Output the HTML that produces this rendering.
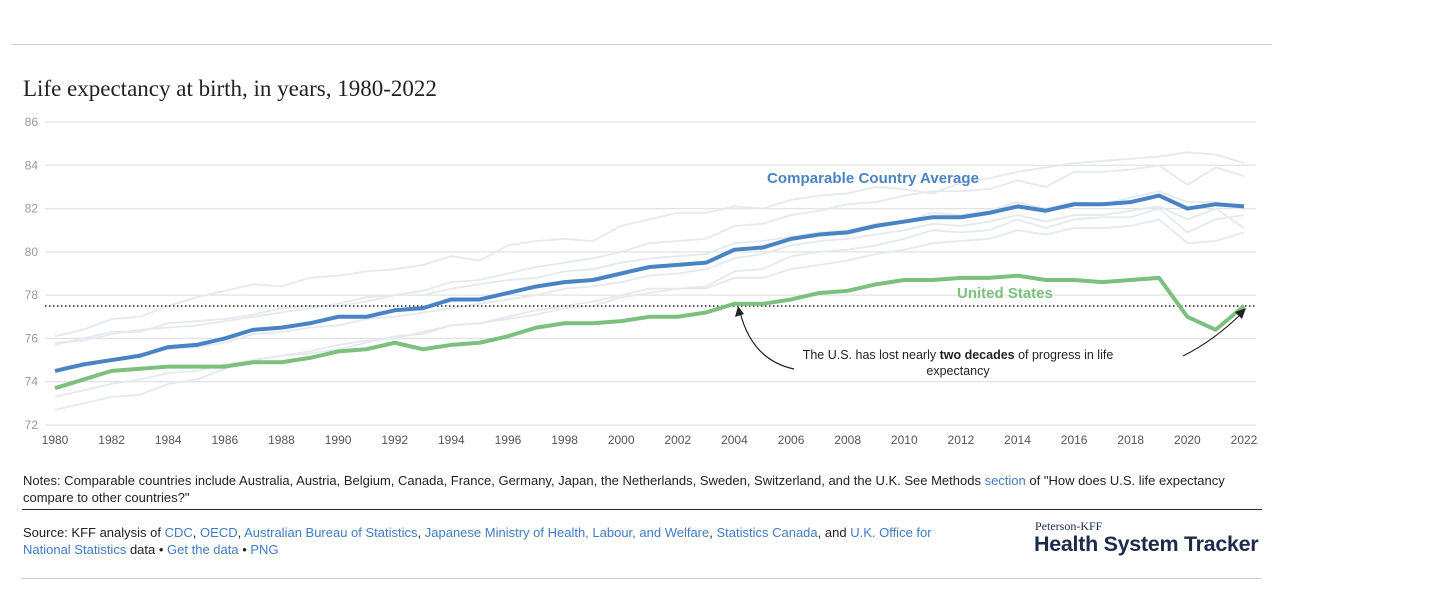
<!DOCTYPE html>
<html><head><meta charset="utf-8"><style>
body{margin:0;width:1456px;height:597px;background:#fff;font-family:"Liberation Sans",sans-serif;overflow:hidden;position:relative}
.a{color:#3f7cc4}
</style></head><body>
<div style="position:absolute;left:12px;top:44px;width:1260px;height:1px;background:#ccc"></div>
<div style="position:absolute;left:23px;top:76px;font-family:'Liberation Serif',serif;font-size:23px;color:#222">Life expectancy at birth, in years, 1980-2022</div>
<svg id="c" width="1456" height="460" style="position:absolute;left:0;top:0"></svg>
<div style="position:absolute;left:23px;top:472px;width:1230px;font-size:13px;line-height:17px;color:#222">Notes: Comparable countries include Australia, Austria, Belgium, Canada, France, Germany, Japan, the Netherlands, Sweden, Switzerland, and the U.K. See Methods <span class="a">section</span> of "How does U.S. life expectancy compare to other countries?"</div>
<div style="position:absolute;left:22px;top:509px;width:1240px;height:1px;background:#1e2a4a"></div>
<div style="position:absolute;left:23px;top:524px;width:915px;font-size:13px;line-height:17px;color:#222">Source: KFF analysis of <span class="a">CDC</span>, <span class="a">OECD</span>, <span class="a">Australian Bureau of Statistics</span>, <span class="a">Japanese Ministry of Health, Labour, and Welfare</span>, <span class="a">Statistics Canada</span>, and <span class="a">U.K. Office for National Statistics</span> data • <span class="a">Get the data</span> • <span class="a">PNG</span></div>
<div style="position:absolute;left:1035px;top:519px;font-family:'Liberation Serif',serif;font-size:12px;color:#1e2a4a">Peterson-KFF</div>
<div style="position:absolute;left:1034px;top:532px;font-size:21.5px;font-weight:bold;color:#1e2a4a;letter-spacing:-0.3px">Health System Tracker</div>
<div style="position:absolute;left:22px;top:578px;width:1240px;height:1px;background:#ccc"></div>
<script>
const years=[];for(let y=1980;y<=2022;y++)years.push(y);
const yTicks=[72,74,76,78,80,82,84,86];
const avg=[74.5,74.8,75.0,75.2,75.6,75.7,76.0,76.4,76.5,76.7,77.0,77.0,77.3,77.4,77.8,77.8,78.1,78.4,78.6,78.7,79.0,79.3,79.4,79.5,80.1,80.2,80.6,80.8,80.9,81.2,81.4,81.6,81.6,81.8,82.1,81.9,82.2,82.2,82.3,82.6,82.0,82.2,82.1];
const us=[73.7,74.1,74.5,74.6,74.7,74.7,74.7,74.9,74.9,75.1,75.4,75.5,75.8,75.5,75.7,75.8,76.1,76.5,76.7,76.7,76.8,77.0,77.0,77.2,77.6,77.6,77.8,78.1,78.2,78.5,78.7,78.7,78.8,78.8,78.9,78.7,78.7,78.6,78.7,78.8,77.0,76.4,77.5];
const c1=[76.1,76.4,76.9,77.0,77.5,77.9,78.2,78.5,78.4,78.8,78.9,79.1,79.2,79.4,79.8,79.6,80.3,80.5,80.6,80.5,81.2,81.5,81.8,81.8,82.1,82.0,82.4,82.6,82.7,83.0,82.9,82.7,83.2,83.4,83.7,83.9,84.1,84.2,84.3,84.4,84.6,84.5,84.1];
const c2=[75.7,76.0,76.3,76.3,76.7,76.8,76.9,77.1,77.4,77.5,77.5,77.7,78.0,78.2,78.6,78.7,79.0,79.3,79.5,79.7,80.0,80.4,80.5,80.6,81.2,81.3,81.7,81.9,82.2,82.3,82.6,82.8,82.8,82.9,83.3,83.0,83.7,83.7,83.8,84.0,83.1,83.9,83.5];
const c3=[72.7,73.0,73.3,73.4,73.9,74.1,74.6,75.0,75.2,75.3,75.5,75.8,76.1,76.2,76.6,76.7,77.0,77.3,77.5,77.7,78.0,78.3,78.3,78.4,79.1,79.2,79.8,80.0,80.1,80.3,80.6,81.0,80.9,81.0,81.5,81.1,81.5,81.6,81.6,82.0,80.9,81.5,81.7];
const c4=[73.3,73.6,73.9,74.1,74.4,74.5,74.8,75.0,75.2,75.4,75.7,75.9,76.0,76.3,76.6,76.7,76.9,77.1,77.4,77.5,77.9,78.1,78.3,78.3,78.8,78.8,79.2,79.4,79.6,79.9,80.1,80.4,80.5,80.6,81.0,80.8,81.1,81.1,81.2,81.5,80.4,80.5,80.9];
const c5=[75.8,75.9,76.2,76.4,76.5,76.6,76.8,77.0,77.2,77.4,77.6,77.9,78.0,78.0,78.3,78.5,78.7,78.8,79.1,79.2,79.5,79.7,79.8,79.9,80.4,80.5,80.7,80.9,81.0,81.3,81.4,81.8,81.7,81.9,82.3,82.0,82.3,82.2,82.5,82.8,82.3,82.3,82.0];
const c6=[74.5,74.7,75.0,75.3,75.5,75.6,75.8,76.2,76.3,76.5,76.6,76.9,77.0,77.2,77.4,77.6,77.8,78.0,78.3,78.4,78.6,78.9,79.0,79.2,79.7,79.9,80.3,80.5,80.6,80.8,81.0,81.3,81.2,81.4,81.7,81.4,81.7,81.7,81.9,82.1,81.5,82.0,81.1];
const refValue=77.5;
const NS="http://www.w3.org/2000/svg",svg=document.getElementById('c');
const X=y=>55+(y-1980)*(1189/42), Y=v=>122+(86-v)*(303/14);
function mk(t,a){const e=document.createElementNS(NS,t);for(const k in a)e.setAttribute(k,a[k]);svg.appendChild(e);return e;}
yTicks.forEach(v=>{
 const g=mk('line',{x1:45,x2:1256,y1:Y(v),y2:Y(v),stroke:'#e3e3e3','stroke-width':1.3});
 
 
 const t=mk('text',{x:38,y:Y(v)+4,'text-anchor':'end','font-size':12,fill:'#999','font-family':'Liberation Sans'});
 t.textContent=v;
 
 
});
years.forEach(y=>{if(y%2)return;
 const t=mk('text',{x:X(y),y:444,'text-anchor':'middle','font-size':12,fill:'#555','font-family':'Liberation Sans'});
 t.textContent=y;
 
 
});
const pts=a=>a.map((v,i)=>X(years[i])+','+Y(v)).join(' ');
[c1,c2,c3,c4,c5,c6].forEach((s,i)=>{
 const p=mk('polyline',{points:pts(s),fill:'none',stroke:'#e4e9ef','stroke-width':1.8});
 
 
});
const r=mk('line',{x1:45,x2:1256,y1:Y(refValue),y2:Y(refValue),stroke:'#222','stroke-width':1.5,'stroke-dasharray':'1.5,2.5'});


const pa=mk('polyline',{points:pts(avg),fill:'none',stroke:'#4a83c4','stroke-width':4,'stroke-linejoin':'round'});


const pu=mk('polyline',{points:pts(us),fill:'none',stroke:'#7cc07e','stroke-width':4,'stroke-linejoin':'round'});


const l1=mk('text',{x:767,y:183,'font-size':15,'font-weight':'bold',fill:'#4a83c4','font-family':'Liberation Sans',textLength:212});l1.textContent='Comparable Country Average';


const l2=mk('text',{x:957,y:298,'font-size':15,'font-weight':'bold',fill:'#7cc07e','font-family':'Liberation Sans'});l2.textContent='United States';


const an=mk('text',{x:958,y:359,'text-anchor':'middle','font-size':12.5,fill:'#222','font-family':'Liberation Sans'});
an.innerHTML='The U.S. has lost nearly <tspan font-weight="bold">two decades</tspan> of progress in life';


const an2=mk('text',{x:958,y:375,'text-anchor':'middle','font-size':12.5,fill:'#222','font-family':'Liberation Sans'});an2.textContent='expectancy';


const a1=mk('path',{d:'M794,369 Q752,360 740,312',fill:'none',stroke:'#222','stroke-width':1.2});


const h1=mk('path',{d:'M738,306 L735,317 L744,314 Z',fill:'#222'});


const a2=mk('path',{d:'M1183,356 Q1215,340 1243,312',fill:'none',stroke:'#222','stroke-width':1.2});


const h2=mk('path',{d:'M1246,308 L1235,312 L1242,319 Z',fill:'#222'});


</script>
</body></html>
